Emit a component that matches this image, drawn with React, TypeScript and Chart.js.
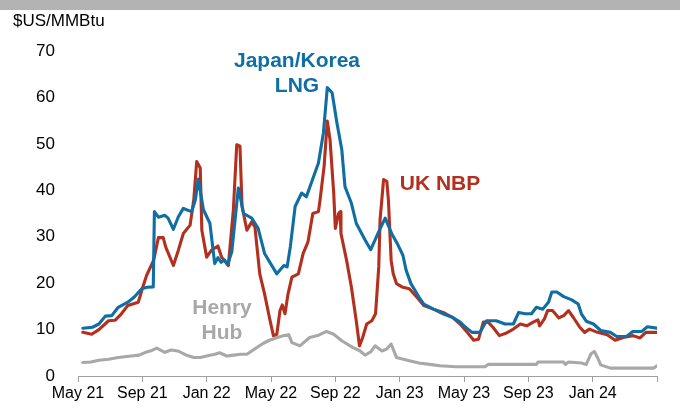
import React, { useEffect, useRef } from 'react';
import { Chart, registerables } from 'chart.js';

Chart.register(...registerables);

// x values are months elapsed since 1 May 2021
const tickLabels = ['May 21', 'Sep 21', 'Jan 22', 'May 22', 'Sep 22', 'Jan 23', 'May 23', 'Sep 23', 'Jan 24', ''];

const lngMonths = [0.3, 0.9, 1.3, 1.7, 2.1, 2.5, 3.1, 3.5, 3.96, 4.3, 4.68, 4.75, 5.0, 5.4, 5.6, 5.93, 6.24, 6.55, 6.75, 7.07, 7.3, 7.48, 7.8, 8.2, 8.5, 8.7, 8.9, 9.1, 9.3, 9.56, 9.97, 10.3, 10.8, 11.2, 11.6, 12.36, 12.8, 13.0, 13.2, 13.5, 13.9, 14.2, 14.5, 14.95, 15.26, 15.5, 15.8, 16.1, 16.4, 16.6, 17.0, 17.3, 17.85, 18.2, 18.7, 19.1, 19.5, 19.9, 20.2, 20.4, 20.7, 21.2, 21.5, 22.1, 22.7, 23.3, 23.76, 24.0, 24.5, 25.0, 25.4, 26.0, 26.55, 27.07, 27.4, 27.8, 28.2, 28.5, 28.9, 29.25, 29.46, 29.77, 30.2, 30.7, 31.1, 31.3, 31.6, 32.05, 32.5, 33.1, 33.5, 34.1, 34.5, 35.05, 35.4, 36.0];
const lngValues = [10.3, 10.5, 11.2, 12.9, 13.0, 14.8, 15.9, 17.0, 18.8, 19.1, 19.2, 35.4, 34.2, 34.6, 34.0, 31.6, 34.3, 36.1, 35.8, 35.4, 38.0, 42.4, 35.8, 32.9, 24.2, 25.5, 24.5, 25.0, 24.0, 26.7, 40.5, 35.0, 34.0, 31.8, 26.4, 22.0, 23.8, 23.5, 27.8, 36.5, 39.4, 38.6, 41.5, 45.9, 52.4, 62.1, 61.0, 54.5, 48.8, 40.8, 37.2, 32.9, 29.3, 27.2, 31.1, 34.0, 30.7, 28.2, 26.0, 22.8, 19.9, 17.0, 15.5, 14.4, 13.4, 12.6, 11.6, 10.8, 9.4, 9.4, 11.9, 11.9, 11.2, 11.2, 13.7, 13.4, 13.4, 14.8, 14.4, 15.9, 18.1, 18.1, 17.1, 16.4, 15.5, 13.4, 11.8, 11.2, 9.8, 9.4, 8.5, 8.5, 9.6, 9.6, 10.6, 10.3];

const nbpMonths = [0.3, 0.85, 1.3, 1.9, 2.3, 2.7, 3.1, 3.75, 4.06, 4.27, 4.7, 5.0, 5.3, 5.45, 5.93, 6.24, 6.55, 6.97, 7.2, 7.38, 7.6, 7.7, 8.0, 8.3, 8.7, 8.93, 9.35, 9.66, 9.87, 10.07, 10.2, 10.5, 10.8, 11.0, 11.3, 11.6, 11.9, 12.15, 12.36, 12.56, 12.7, 12.87, 13.06, 13.3, 13.7, 14.0, 14.3, 14.6, 14.95, 15.05, 15.3, 15.5, 15.67, 15.9, 16.0, 16.2, 16.3, 16.35, 16.7, 17.0, 17.3, 17.5, 17.7, 17.95, 18.27, 18.5, 18.7, 18.78, 19.0, 19.2, 19.3, 19.47, 19.6, 19.8, 20.2, 20.6, 21.06, 21.5, 22.1, 22.7, 23.3, 23.76, 24.2, 24.6, 24.9, 25.2, 25.5, 25.8, 26.2, 26.6, 27.07, 27.5, 27.9, 28.3, 28.6, 28.7, 29.0, 29.2, 29.5, 29.9, 30.2, 30.5, 30.8, 31.2, 31.5, 31.8, 32.3, 32.9, 33.4, 33.9, 34.5, 34.95, 35.3, 36.0];
const nbpValues = [9.4, 9.0, 10.0, 11.9, 12.0, 13.4, 15.2, 15.9, 19.5, 21.7, 24.9, 29.8, 29.8, 27.8, 23.8, 27.1, 30.7, 32.5, 38.0, 46.2, 44.8, 31.4, 25.6, 27.1, 28.0, 25.6, 23.8, 35.8, 49.8, 49.5, 36.5, 31.4, 33.2, 32.1, 22.0, 17.7, 12.6, 8.7, 9.0, 14.1, 15.3, 13.4, 17.7, 21.3, 22.0, 26.4, 28.9, 35.0, 35.4, 37.9, 45.1, 54.9, 50.9, 39.4, 31.8, 35.0, 35.4, 30.7, 24.9, 19.1, 11.9, 6.5, 8.3, 11.2, 11.9, 13.4, 23.5, 33.6, 42.3, 41.9, 37.9, 24.9, 22.0, 19.9, 19.1, 18.8, 17.0, 15.2, 14.4, 13.7, 12.6, 11.2, 9.4, 7.7, 7.9, 11.6, 11.6, 10.5, 8.7, 9.2, 10.1, 11.2, 10.8, 11.6, 12.1, 10.8, 12.3, 14.1, 14.1, 12.5, 13.0, 14.1, 12.6, 10.5, 9.4, 10.1, 9.4, 8.9, 7.7, 8.3, 8.7, 8.2, 9.4, 9.4];

const hhMonths = [0.3, 0.8, 1.3, 1.9, 2.5, 3.3, 3.8, 4.2, 4.6, 4.9, 5.4, 5.8, 6.2, 6.45, 6.8, 7.2, 7.6, 8.0, 8.5, 8.8, 9.25, 9.7, 10.1, 10.5, 11.1, 11.5, 11.9, 12.4, 12.8, 13.1, 13.3, 13.8, 14.4, 14.9, 15.45, 15.9, 16.4, 17.1, 17.5, 17.85, 18.2, 18.47, 18.9, 19.2, 19.47, 19.8, 20.6, 21.2, 22.1, 22.5, 23.5, 25.3, 25.5, 28.5, 28.6, 30.2, 30.3, 30.5, 31.3, 31.6, 31.9, 32.1, 32.3, 32.5, 33.1, 35.8, 36.0];
const hhValues = [2.9, 3.0, 3.4, 3.6, 4.0, 4.3, 4.5, 5.1, 5.5, 6.0, 5.1, 5.6, 5.4, 5.0, 4.4, 4.0, 4.0, 4.3, 4.7, 5.0, 4.3, 4.5, 4.7, 4.7, 6.1, 7.0, 7.7, 8.3, 8.7, 8.9, 7.2, 6.5, 8.3, 8.7, 9.6, 9.0, 7.6, 6.1, 5.5, 4.5, 5.2, 6.5, 5.4, 5.8, 6.9, 4.0, 3.3, 2.8, 2.4, 2.2, 2.0, 2.0, 2.5, 2.5, 3.0, 3.0, 2.5, 3.0, 2.8, 2.5, 4.8, 5.3, 4.0, 2.4, 1.7, 1.7, 2.2];

const BLUE = '#0F6EA3';
const RED = '#B3301F';
const GRAY = '#A8A8A8';
const FONT = "'Liberation Sans', Arial, sans-serif";

const annotations = [
  { text: 'Japan/Korea', color: BLUE, x: 297, y: 61 },
  { text: 'LNG', color: BLUE, x: 297, y: 86 },
  { text: 'UK NBP', color: RED, x: 440, y: 184 },
  { text: 'Henry', color: GRAY, x: 222, y: 308 },
  { text: 'Hub', color: GRAY, x: 222, y: 333 },
];

const toPoints = (xs: number[], ys: number[]) => xs.map((x, i) => ({ x, y: ys[i] }));

const labelPlugin = {
  id: 'seriesLabels',
  afterDraw(chart: any) {
    const ctx = chart.ctx;
    ctx.save();
    ctx.font = `bold 21px ${FONT}`;
    ctx.textAlign = 'center';
    ctx.textBaseline = 'middle';
    for (const a of annotations) {
      ctx.fillStyle = a.color;
      ctx.fillText(a.text, a.x, a.y);
    }
    ctx.restore();
  },
};

export default function App() {
  const ref = useRef<HTMLCanvasElement | null>(null);
  useEffect(() => {
    if (!ref.current) return;
    const line = { borderWidth: 3.1, pointRadius: 0, tension: 0, borderJoinStyle: 'round', borderCapStyle: 'round' };
    const chart = new Chart(ref.current, {
      type: 'line',
      data: {
        datasets: [
          { label: 'Japan/Korea LNG', data: toPoints(lngMonths, lngValues), borderColor: BLUE, ...line },
          { label: 'UK NBP', data: toPoints(nbpMonths, nbpValues), borderColor: RED, ...line },
          { label: 'Henry Hub', data: toPoints(hhMonths, hhValues), borderColor: GRAY, ...line },
        ],
      },
      options: {
        animation: false,
        responsive: false,
        layout: { padding: { left: 0, right: 23, top: 51, bottom: 0 } },
        plugins: { legend: { display: false }, tooltip: { enabled: false } },
        scales: {
          x: {
            type: 'linear',
            min: 0,
            max: 36,
            afterFit: (axis: any) => { axis.height = 32; },
            ticks: {
              stepSize: 4,
              autoSkip: false,
              maxRotation: 0,
              padding: 2,
              color: '#000',
              font: { family: FONT, size: 16 },
              callback: (v: any) => tickLabels[Math.round(Number(v) / 4)] ?? '',
            },
            grid: { display: true, drawOnChartArea: false, drawTicks: true, tickLength: 6, color: '#A0A0A0' },
            border: { display: true, color: '#A0A0A0', width: 1 },
          },
          y: {
            min: 0,
            max: 70,
            afterFit: (axis: any) => { axis.width = 78; },
            ticks: { stepSize: 10, padding: 15, color: '#000', font: { family: FONT, size: 17 } },
            grid: { display: false },
            border: { display: false },
          },
        },
      },
      plugins: [labelPlugin],
    } as any);
    return () => chart.destroy();
  }, []);

  return (
    <div style={{ position: 'fixed', left: 0, top: 0, width: 680, height: 408, background: '#fff', overflow: 'hidden' }}>
      <div style={{ position: 'absolute', left: 0, top: 0, width: 680, height: 10, background: '#B3B3B3' }} />
      <div style={{ position: 'absolute', left: 13, top: 11, fontFamily: FONT, fontSize: 17, color: '#000', lineHeight: '20px' }}>$US/MMBtu</div>
      <canvas ref={ref} width={680} height={408} style={{ width: 680, height: 408, display: 'block' }} />
    </div>
  );
}
